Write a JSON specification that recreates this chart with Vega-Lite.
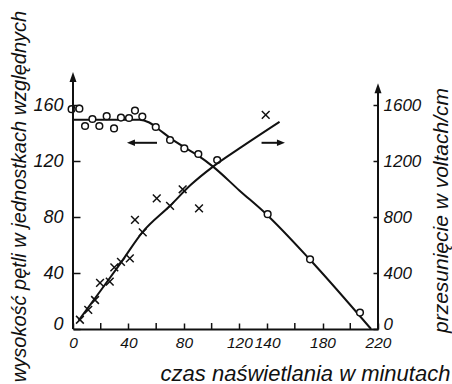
{
  "$schema": "https://vega.github.io/schema/vega-lite/v6.json",
  "width": 305,
  "height": 259,
  "autosize": {"type": "none"},
  "padding": {"left": 73, "top": 70, "right": 74, "bottom": 55},
  "background": "white",
  "config": {
    "view": {"stroke": null},
    "axis": {
      "labelFont": "Liberation Sans",
      "labelFontStyle": "italic",
      "labelFontSize": 17,
      "labelColor": "#111",
      "titleFont": "Liberation Sans",
      "titleFontStyle": "italic",
      "titleFontWeight": "normal",
      "titleFontSize": 21,
      "titleColor": "#111",
      "tickColor": "#111",
      "tickWidth": 1.5,
      "domainColor": "#111",
      "domainWidth": 2,
      "grid": false,
      "labelOverlap": false,
      "labelFlush": false,
      "labelBound": false
    }
  },
  "data": {"values": [{}]},
  "datasets": {
    "circles": [
      {"x": -1, "y": 157}, {"x": 4.6, "y": 157.4}, {"x": 8.7, "y": 145}, {"x": 14, "y": 150},
      {"x": 19, "y": 145}, {"x": 24.3, "y": 152}, {"x": 29.6, "y": 143.3}, {"x": 34.6, "y": 151},
      {"x": 40.4, "y": 150.7}, {"x": 44.7, "y": 156}, {"x": 50, "y": 151.7}, {"x": 59.7, "y": 144.3},
      {"x": 70, "y": 135}, {"x": 80.3, "y": 129}, {"x": 90.4, "y": 125}, {"x": 104, "y": 120.7},
      {"x": 140.4, "y": 82}, {"x": 171, "y": 49.8}, {"x": 207, "y": 11.7}
    ],
    "crosses": [
      {"x": 5, "v": 66}, {"x": 11, "v": 136}, {"x": 15.9, "v": 207}, {"x": 19.5, "v": 330},
      {"x": 26.5, "v": 338}, {"x": 29.8, "v": 440}, {"x": 34.6, "v": 480}, {"x": 41, "v": 505},
      {"x": 44.7, "v": 779}, {"x": 50.3, "v": 690}, {"x": 60.4, "v": 933}, {"x": 70, "v": 879},
      {"x": 79.1, "v": 998}, {"x": 90.9, "v": 862}, {"x": 139, "v": 1529}
    ],
    "curveL": [
      {"x": 0, "y": 149.5}, {"x": 48, "y": 149.5}, {"x": 55, "y": 147.5}, {"x": 62, "y": 142.5},
      {"x": 70, "y": 136.5}, {"x": 80, "y": 130}, {"x": 90, "y": 124}, {"x": 101, "y": 116},
      {"x": 120, "y": 99}, {"x": 140, "y": 81.5}, {"x": 171, "y": 49.5}, {"x": 215, "y": 0}
    ],
    "curveR": [
      {"x": 4, "v": 60}, {"x": 20, "v": 275}, {"x": 35, "v": 480}, {"x": 50, "v": 690},
      {"x": 70, "v": 880}, {"x": 85, "v": 1030}, {"x": 101, "v": 1160}, {"x": 120, "v": 1290},
      {"x": 149, "v": 1480}
    ],
    "minorX": [{"t": 20}, {"t": 60}, {"t": 100}, {"t": 160}, {"t": 200}]
  },
  "layer": [
    {
      "layer": [
        {
          "data": {"name": "curveL"},
          "mark": {"type": "line", "color": "#111", "strokeWidth": 2, "interpolate": "monotone"},
          "encoding": {
            "x": {
              "field": "x", "type": "quantitative",
              "scale": {"domain": [0, 220], "nice": false},
              "axis": {
                "orient": "bottom",
                "values": [0, 40, 80, 120, 140, 180, 220],
                "labelOverlap": false,
                "labelFlush": false,
                "tickSize": -6,
                "labelPadding": 12,
                "labelFontSize": 15.5,
                "title": "czas naświetlania w minutach",
                "titleFontSize": 22,
                "titleX": 232,
                "titleY": 51,
                "titleAlign": "center",
                "titleBaseline": "alphabetic"
              }
            },
            "y": {
              "field": "y", "type": "quantitative",
              "scale": {"domain": [0, 185], "nice": false},
              "axis": {
                "orient": "left",
                "domain": false,
                "values": [0, 20, 40, 60, 80, 100, 120, 140, 160],
                "labelExpr": "datum.value % 40 == 0 ? datum.label : ''",
                "labelOverlap": false,
                "labelBaseline": {"condition": {"test": "datum.value == 0", "value": "alphabetic"}, "value": "middle"},
                "format": "d",
                "tickSize": -7,
                "labelPadding": 17,
                "labelFontSize": 18,
                "title": "wysokość pętli w jednostkach względnych",
                "titleFontSize": 20,
                "titleAngle": -90,
                "titleX": -48,
                "titleY": 126,
                "titleAlign": "center",
                "titleBaseline": "alphabetic"
              }
            }
          }
        },
        {
          "data": {"name": "minorX"},
          "mark": {"type": "rule", "color": "#111", "strokeWidth": 1.5},
          "encoding": {
            "x": {"field": "t", "type": "quantitative"},
            "y": {"datum": 0},
            "y2": {"datum": 4.3}
          }
        },
        {
          "data": {"name": "circles"},
          "mark": {"type": "point", "shape": "circle", "size": 45, "filled": true, "fill": "white", "stroke": "#111", "strokeWidth": 1.5, "opacity": 1},
          "encoding": {
            "x": {"field": "x", "type": "quantitative"},
            "y": {"field": "y", "type": "quantitative"}
          }
        },
        {
          "mark": {"type": "rule", "color": "#111", "strokeWidth": 2},
          "encoding": {"x": {"datum": 0}, "y": {"datum": 0}, "y2": {"datum": 180}}
        },
        {
          "mark": {"type": "point", "shape": "M0,-1L0.7,1L-0.7,1Z", "size": 100, "filled": true, "color": "#111", "opacity": 1},
          "encoding": {"x": {"datum": 0}, "y": {"datum": 180}}
        },
        {
          "mark": {"type": "rule", "color": "#111", "strokeWidth": 2},
          "encoding": {"x": {"datum": 43}, "x2": {"datum": 60.6}, "y": {"datum": 133}}
        },
        {
          "mark": {"type": "point", "shape": "M-1,0L1,-0.8L1,0.8Z", "size": 64, "filled": true, "color": "#111", "opacity": 1},
          "encoding": {"x": {"datum": 41.8}, "y": {"datum": 133}}
        }
      ]
    },
    {
      "layer": [
        {
          "data": {"name": "curveR"},
          "mark": {"type": "line", "color": "#111", "strokeWidth": 2, "interpolate": "monotone"},
          "encoding": {
            "x": {"field": "x", "type": "quantitative"},
            "y": {
              "field": "v", "type": "quantitative",
              "scale": {"domain": [0, 1850], "nice": false},
              "axis": {
                "orient": "right",
                "domain": false,
                "values": [0, 200, 400, 600, 800, 1000, 1200, 1400, 1600],
                "labelExpr": "datum.value % 400 == 0 ? datum.label : ''",
                "labelOverlap": false,
                "labelBaseline": {"condition": {"test": "datum.value == 0", "value": "alphabetic"}, "value": "middle"},
                "format": "d",
                "tickSize": -5,
                "labelPadding": 10,
                "labelFontSize": 17,
                "title": "przesunięcie w voltach/cm",
                "titleAngle": -90,
                "titleX": 69,
                "titleY": 140,
                "titleAlign": "center",
                "titleBaseline": "alphabetic"
              }
            }
          }
        },
        {
          "data": {"name": "crosses"},
          "mark": {"type": "point", "shape": "M-1,-1L1,1M-1,1L1,-1", "size": 60, "filled": false, "stroke": "#111", "strokeWidth": 1.5, "opacity": 1},
          "encoding": {
            "x": {"field": "x", "type": "quantitative"},
            "y": {"field": "v", "type": "quantitative"}
          }
        },
        {
          "mark": {"type": "rule", "color": "#111", "strokeWidth": 2},
          "encoding": {"x": {"datum": 220}, "y": {"datum": 0}, "y2": {"datum": 1720}}
        },
        {
          "mark": {"type": "point", "shape": "M0,-1L0.7,1L-0.7,1Z", "size": 100, "filled": true, "color": "#111", "opacity": 1},
          "encoding": {"x": {"datum": 220}, "y": {"datum": 1720}}
        },
        {
          "mark": {"type": "rule", "color": "#111", "strokeWidth": 2},
          "encoding": {"x": {"datum": 136}, "x2": {"datum": 149}, "y": {"datum": 1330}}
        },
        {
          "mark": {"type": "point", "shape": "M1,0L-1,-0.8L-1,0.8Z", "size": 64, "filled": true, "color": "#111", "opacity": 1},
          "encoding": {"x": {"datum": 150}, "y": {"datum": 1330}}
        }
      ]
    }
  ],
  "resolve": {"scale": {"y": "independent"}}
}
